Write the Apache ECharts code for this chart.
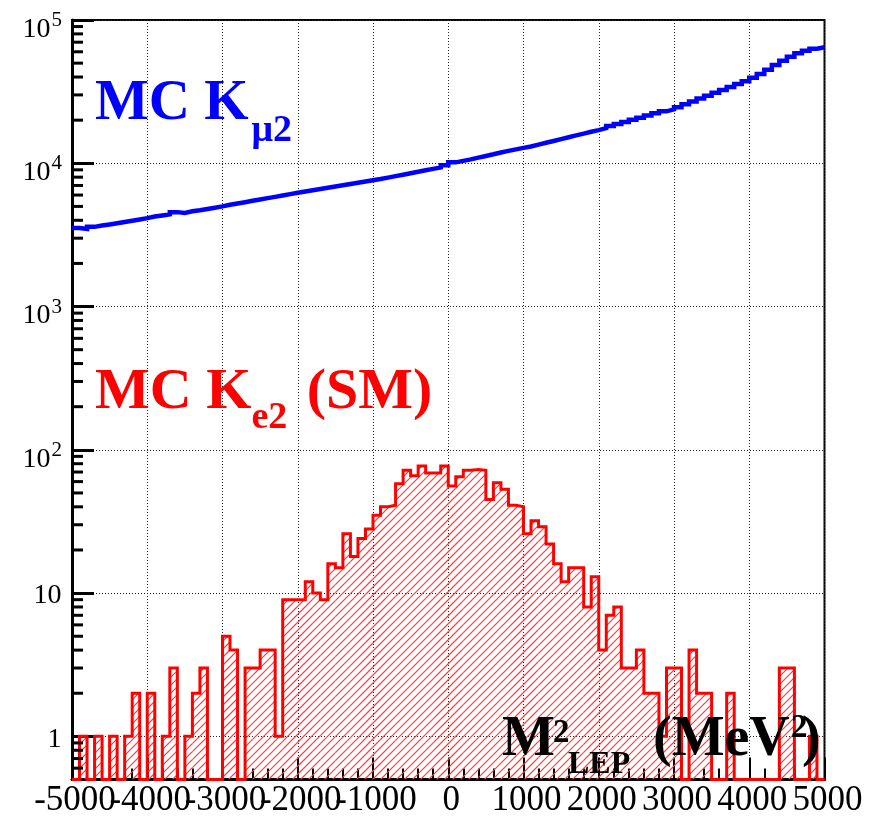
<!DOCTYPE html>
<html><head><meta charset="utf-8">
<script src="https://cdn.jsdelivr.net/npm/echarts@6/dist/echarts.min.js"></script>
<style>html,body{margin:0;padding:0;background:#fff}#c{width:870px;height:818px}</style>
</head><body><div id="c"></div>
<script>
// Left edges of the 100 MeV^2 bins
const binLeftEdges = [-5000,-4900,-4800,-4700,-4600,-4500,-4400,-4300,-4200,-4100,
 -4000,-3900,-3800,-3700,-3600,-3500,-3400,-3300,-3200,-3100,
 -3000,-2900,-2800,-2700,-2600,-2500,-2400,-2300,-2200,-2100,
 -2000,-1900,-1800,-1700,-1600,-1500,-1400,-1300,-1200,-1100,
 -1000,-900,-800,-700,-600,-500,-400,-300,-200,-100,
 0,100,200,300,400,500,600,700,800,900,
 1000,1100,1200,1300,1400,1500,1600,1700,1800,1900,
 2000,2100,2200,2300,2400,2500,2600,2700,2800,2900,
 3000,3100,3200,3300,3400,3500,3600,3700,3800,3900,
 4000,4100,4200,4300,4400,4500,4600,4700,4800,4900];
const binWidth = 100;

// MC K_mu2 counts per bin
const mcKmu2 = [3530,3480,3600,3680,3740,3810,3890,3970,4050,4140,
 4250,4320,4400,4560,4500,4620,4700,4800,4900,5000,
 5130,5240,5350,5470,5590,5710,5830,5960,6090,6220,
 6360,6490,6620,6750,6890,7030,7170,7310,7460,7610,
 7760,7940,8130,8320,8520,8720,8930,9140,9350,9700,
 10150,10400,10650,10950,11250,11550,11900,12200,12500,12800,
 13100,13500,13900,14300,14750,15200,15650,16100,16600,17050,
 17600,18200,18800,19450,20100,20800,21550,22300,23050,23800,
 24600,25800,27000,28300,29600,31000,32500,34100,35700,37400,
 39500,42000,45000,48500,52000,55500,58500,61000,63000,64500];

// MC K_e2 (SM) counts per bin
const mcKe2 = [0,1,0,1,0,1,0,1,2,0,
 2,0,1,3,0,1,2,3,0,0,
 5,4,0,3,3,4,4,1,9,9,
 9,12,10,9,16,15,26,18,24,28,
 35,40,41,58,72,66,77,69,69,77,
 56,65,72,73,72,45,59,53,41,40,
 26,32,29,22,16,12,15,15,8,13,
 4,7,8,3,3,4,2,2,1,3,
 3,0,4,2,2,0,0,2,0,0,
 0,0,0,0,3,3,0,0,1,0];

// Tick labels
const xTickLabels = [-5000,-4000,-3000,-2000,-1000,0,1000,2000,3000,4000,5000];
const yTickValues = [1,10,100,1000,10000,100000];
const yTickBase = ['1','10','10','10','10','10'];
const yTickExp = ['','','2','3','4','5'];

const xTickStep = 1000;
const yMin = 0.5, yMax = 1e5;
const yMinorTicks = [];
for (let e = -1; e <= 4; e++) for (let m = 2; m <= 9; m++) { const v = m * Math.pow(10, e); if (v > yMin && v < yMax) yMinorTicks.push(v); }

function stepData(vals) {
  const d = binLeftEdges.map((x, i) => [x, Math.max(vals[i], yMin)]);
  d.push([binLeftEdges[binLeftEdges.length - 1] + binWidth, Math.max(vals[vals.length - 1], yMin)]);
  return d;
}
const hatchData = [];
binLeftEdges.forEach((x, i) => { if (mcKe2[i] > 0) hatchData.push([x, x + binWidth, mcKe2[i]]); });

const HATCH = 8;
const serif = '"Liberation Serif", "Times New Roman", serif';
const chart = echarts.init(document.getElementById('c'), null, {renderer: 'canvas'});

function tstyle(text, font, color, align) {
  return {text: text, font: font, fill: color, align: align, verticalAlign: 'middle',
    textAlign: align, textVerticalAlign: 'middle'};
}
function txt(x, y, text, size, color) {
  return {type: 'text', x: x, y: y, z: 100, silent: true, style: tstyle(text, 'bold ' + size + 'px ' + serif, color, 'left')};
}

chart.setOption({
  animation: false,
  backgroundColor: '#fff',
  grid: {left: 72, right: 45.5, top: 20, bottom: 38.5, show: true, borderColor: '#000', borderWidth: 2,
    containLabel: false, outerBoundsMode: 'none'},
  xAxis: {
    type: 'value', min: -5000, max: 5000, interval: xTickStep,
    axisLine: {onZero: false, lineStyle: {color: '#000', width: 3}},
    axisTick: {inside: true, length: 22, lineStyle: {color: '#000', width: 2}},
    minorTick: {show: true, splitNumber: 5, length: 11, lineStyle: {color: '#000', width: 2}},
    splitLine: {show: true, lineStyle: {type: [1, 2], color: '#222', width: 1}},
    axisLabel: {show: false}
  },
  yAxis: {
    type: 'log', logBase: 10, min: yMin, max: yMax,
    axisLine: {onZero: false, lineStyle: {color: '#000', width: 3}},
    axisTick: {inside: true, length: 22, lineStyle: {color: '#000', width: 3}},
    splitLine: {show: true, lineStyle: {type: [1, 2], color: '#222', width: 1}},
    axisLabel: {show: false}
  },
  series: [
    {
      name: 'hatch', type: 'custom', silent: true, z: 2, clip: true,
      encode: {x: [0, 1], y: 2},
      itemStyle: {color: '#ff0000'},
      data: hatchData,
      renderItem: function (params, api) {
        const p0 = api.coord([api.value(0), yMin]);
        const p1 = api.coord([api.value(1), api.value(2)]);
        const xa = p0[0], xb = p1[0], yb = p0[1], yt = p1[1];
        const pts = [];
        const cStart = Math.ceil((xa + yt) / HATCH) * HATCH;
        let d = '';
        for (let c = cStart; c <= xb + yb; c += HATCH) {
          const x1 = Math.max(xa, c - yb), x2 = Math.min(xb, c - yt);
          if (x2 > x1) d += 'M' + x1.toFixed(2) + ' ' + (c - x1).toFixed(2) + 'L' + x2.toFixed(2) + ' ' + (c - x2).toFixed(2);
        }
        return {type: 'path', shape: {pathData: d}, style: {fill: 'none', stroke: '#ff3b3b', lineWidth: 1.2}};
      }
    },
    {
      name: 'MC Ke2', type: 'line', step: 'end', showSymbol: false, z: 3,
      color: '#ff0000',
      data: stepData(mcKe2),
      lineStyle: {color: '#ff0000', width: 3, join: 'miter'}
    },
    {
      name: 'MC Kmu2', type: 'line', step: 'end', showSymbol: false, z: 4,
      color: '#0000ff',
      data: stepData(mcKmu2),
      lineStyle: {color: '#0000ff', width: 4.5, join: 'miter'}
    },
    {
      name: 'minorY', type: 'custom', silent: true, z: 5, clip: false,
      data: yMinorTicks.map(v => [-5000, v]),
      renderItem: function (params, api) {
        const p = api.coord([api.value(0), api.value(1)]);
        return {type: 'line', shape: {x1: p[0], y1: p[1], x2: p[0] + 11, y2: p[1]}, style: {stroke: '#000', lineWidth: 3}};
      }
    },
    {
      name: 'xLabels', type: 'custom', silent: true, z: 6, clip: false,
      data: xTickLabels.map(v => [v, yMin]),
      renderItem: function (params, api) {
        const p = api.coord([api.value(0), api.value(1)]);
        return {type: 'text', x: p[0] + 3, y: p[1] + 21.5,
          style: tstyle(String(xTickLabels[params.dataIndex]), '35px ' + serif, '#000', 'center')};
      }
    },
    {
      name: 'yLabels', type: 'custom', silent: true, z: 6, clip: false,
      data: yTickValues.map(v => [-5000, v]),
      renderItem: function (params, api) {
        const p = api.coord([api.value(0), api.value(1)]);
        const i = params.dataIndex;
        if (!yTickExp[i]) {
          return {type: 'text', x: p[0] - 10.5, y: p[1] + 3, style: tstyle(yTickBase[i], '28px ' + serif, '#000', 'right')};
        }
        return {type: 'group', children: [
          {type: 'text', x: p[0] - 21.5, y: p[1] + 9.5, style: tstyle(yTickBase[i], '28px ' + serif, '#000', 'right')},
          {type: 'text', x: p[0] - 20.5, y: p[1] + 0.5, style: tstyle(yTickExp[i], '21px ' + serif, '#000', 'left')}
        ]};
      }
    }
  ],
  graphic: [
    txt(95, 104.5, 'MC K', 57, '#0000ff'),
    txt(251.5, 131.5, 'μ2', 38, '#0000ff'),
    txt(95, 392.6, 'MC K', 58, '#ff0000'),
    txt(251.5, 418, 'e2', 38, '#ff0000'),
    txt(306.7, 392.6, '(SM)', 58, '#ff0000'),
    txt(502, 741, 'M', 56, '#000'),
    txt(553, 733, '2', 33, '#000'),
    txt(568, 764.4, 'LEP', 32, '#000'),
    txt(653, 741, '(MeV', 56, '#000'),
    txt(791, 728, '2', 33, '#000'),
    txt(802, 741, ')', 56, '#000')
  ]
});
</script>
</body></html>
